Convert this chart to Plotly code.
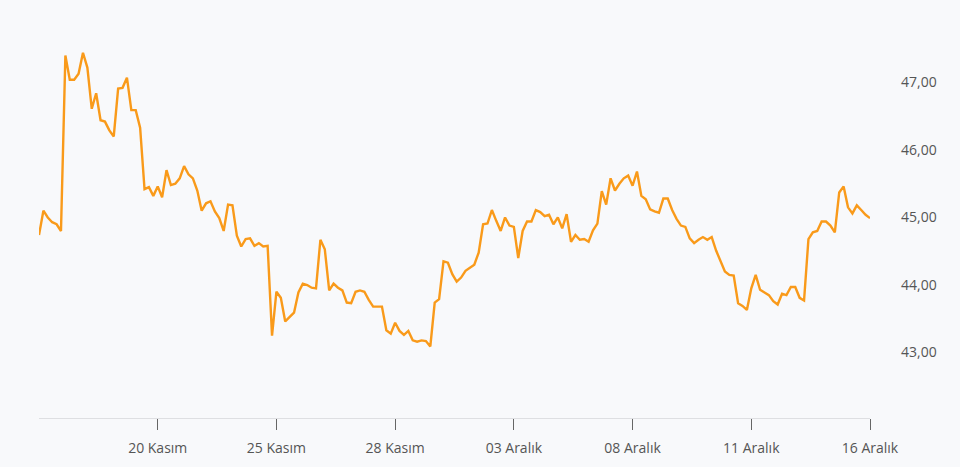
import plotly.graph_objects as go

# price series (one value per sample, evenly spaced)
prices = [
    44.74, 45.10, 45.00, 44.93, 44.90, 44.80, 47.40, 47.04, 47.04, 47.13,
    47.44, 47.22, 46.61, 46.84, 46.44, 46.42, 46.29, 46.20, 46.91, 46.92,
    47.07, 46.59, 46.59, 46.33, 45.42, 45.45, 45.32, 45.46, 45.30, 45.70,
    45.48, 45.50, 45.58, 45.76, 45.64, 45.58, 45.40, 45.10, 45.21, 45.24,
    45.09, 44.99, 44.80, 45.19, 45.18, 44.73, 44.57, 44.68, 44.69, 44.58,
    44.62, 44.57, 44.58, 43.25, 43.90, 43.81, 43.46, 43.53, 43.59, 43.89,
    44.02, 44.00, 43.96, 43.95, 44.67, 44.53, 43.92, 44.02, 43.96, 43.92,
    43.74, 43.73, 43.90, 43.92, 43.90, 43.78, 43.68, 43.68, 43.68, 43.33,
    43.28, 43.44, 43.32, 43.26, 43.32, 43.18, 43.16, 43.18, 43.17, 43.09,
    43.74, 43.79, 44.35, 44.33, 44.16, 44.05, 44.11, 44.21, 44.25, 44.30,
    44.48, 44.90, 44.91, 45.11, 44.95, 44.80, 45.00, 44.88, 44.86, 44.40,
    44.80, 44.94, 44.94, 45.11, 45.08, 45.02, 45.04, 44.90, 45.00, 44.84,
    45.05, 44.64, 44.74, 44.67, 44.68, 44.64, 44.81, 44.91, 45.39, 45.19,
    45.58, 45.40, 45.50, 45.58, 45.62, 45.47, 45.68, 45.32, 45.27, 45.12,
    45.09, 45.07, 45.28, 45.28, 45.11, 44.98, 44.88, 44.86, 44.69, 44.62,
    44.67, 44.71, 44.67, 44.71, 44.51, 44.35, 44.20, 44.15, 44.14, 43.73,
    43.69, 43.63, 43.95, 44.15, 43.93, 43.89, 43.85, 43.76, 43.71, 43.87,
    43.85, 43.97, 43.97, 43.81, 43.77, 44.68, 44.78, 44.80, 44.94, 44.94,
    44.88, 44.78, 45.37, 45.46, 45.15, 45.06, 45.18, 45.11, 45.04, 44.99,
]
steps = list(range(len(prices)))

# date labels and the sample they sit on
tick_steps = [27, 54, 81, 108, 135, 162, 189]
tick_labels = ["20 Kasım", "25 Kasım", "28 Kasım", "03 Aralık",
               "08 Aralık", "11 Aralık", "16 Aralık"]

BG = "#f8f9fb"

fig = go.Figure(go.Scatter(
    x=steps,
    y=prices,
    mode="lines",
    line=dict(color="#f99a1a", width=2.4),
    hoverinfo="y",
))

# the page body adds an 8px offset, margins are shifted to compensate
fig.update_layout(
    width=960,
    height=467,
    margin=dict(l=31, r=98, t=13, b=57),
    paper_bgcolor=BG,
    plot_bgcolor=BG,
    separators=",.",
    showlegend=False,
    font=dict(family="Open Sans, sans-serif", size=14, color="#555555"),
)

fig.update_xaxes(
    range=[0, len(prices) - 1],
    tickvals=tick_steps,
    ticktext=tick_labels,
    showgrid=False,
    zeroline=False,
    showline=True,
    linecolor="#dedfe2",
    linewidth=1,
    ticks="outside",
    ticklen=11,
    tickcolor="#666666",
    ticklabelstandoff=6,
)

fig.update_yaxes(
    side="right",
    range=[42.03, 47.91],
    tickvals=[43, 44, 45, 46, 47],
    tickformat=".2f",
    showgrid=False,
    zeroline=False,
    showline=False,
    ticks="",
    ticklabelstandoff=30,
)

# paint the page behind the figure too, so the body margin is not white
fig.write_html("out.html", post_script=f"document.body.style.background = '{BG}';")
